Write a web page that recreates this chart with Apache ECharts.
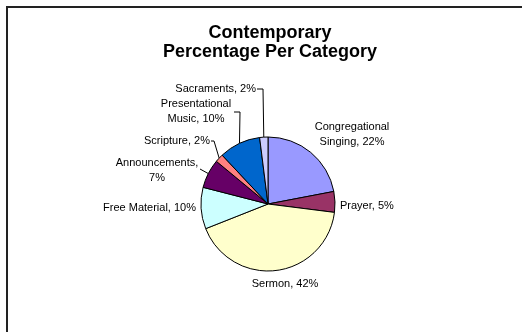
<!DOCTYPE html>
<html>
<head>
<meta charset="utf-8">
<script src="https://cdn.jsdelivr.net/npm/echarts@6/dist/echarts.min.js"></script>
<style>
  html, body { margin: 0; padding: 0; background: #fff; }
  #chart { width: 522px; height: 332px; }
</style>
</head>
<body>
<div id="chart"></div>
<script>
// Share of service time per category (percent), clockwise from 12 o'clock
const categories = [
  'Congregational Singing', 'Prayer', 'Sermon', 'Free Material',
  'Announcements', 'Scripture', 'Presentational Music', 'Sacraments'
];
const labelTexts = [
  'Congregational\nSinging, 22%', 'Prayer, 5%', 'Sermon, 42%', 'Free Material, 10%',
  'Announcements,\n7%', 'Scripture, 2%', 'Presentational\nMusic, 10%', 'Sacraments, 2%'
];
const values = [22, 5, 42, 10, 7, 2, 10, 2];
const sliceColors = [
  '#9999FF', '#993366', '#FFFFCC', '#CCFFFF',
  '#660066', '#FF8080', '#0066CC', '#CCCCFF'
];

// Label placement: text anchor (x, y, align) and, for leader-lined labels,
// the elbow of the leader and where it meets the text.
const labelPlacement = [
  { x: 352, y: 134, align: 'center' },
  { x: 340, y: 206, align: 'left' },
  { x: 285, y: 284, align: 'center' },
  { x: 196, y: 208, align: 'right' },
  { x: 157, y: 170, align: 'center', elbow: [200, 169], end: [200, 169] },
  { x: 210, y: 141, align: 'right', elbow: [214, 141], end: [211, 141] },
  { x: 196, y: 111, align: 'center', elbow: [240, 112], end: [234, 112] },
  { x: 256, y: 89, align: 'right', elbow: [263, 89], end: [257, 89] }
];

const chart = echarts.init(document.getElementById('chart'), null, { renderer: 'canvas' });

chart.setOption({
  animation: false,
  backgroundColor: '#ffffff',
  title: {
    text: 'Contemporary\nPercentage Per Category',
    left: 265,
    top: 18,
    textAlign: 'center',
    textStyle: {
      fontFamily: 'Liberation Sans, Arial, sans-serif',
      fontSize: 18,
      fontWeight: 'bold',
      lineHeight: 19.5,
      color: '#000'
    }
  },
  graphic: [{
    type: 'rect',
    shape: { x: 7, y: 7, width: 600, height: 400 },
    style: { fill: 'none', stroke: '#222', lineWidth: 2 },
    silent: true
  }],
  series: [{
    type: 'pie',
    center: [268, 204],
    radius: 67,
    startAngle: 90,
    clockwise: true,
    avoidLabelOverlap: false,
    itemStyle: { borderColor: '#000', borderWidth: 1 },
    label: {
      show: true,
      position: 'outside',
      formatter: p => labelTexts[p.dataIndex],
      fontFamily: 'Liberation Sans, Arial, sans-serif',
      fontSize: 11,
      lineHeight: 15,
      color: '#000'
    },
    labelLine: {
      show: true,
      lineStyle: { color: '#000', width: 1 }
    },
    emphasis: { disabled: true },
    labelLayout: function (params) {
      const p = labelPlacement[params.dataIndex];
      const out = {
        x: p.x,
        y: p.y,
        align: p.align,
        verticalAlign: 'middle'
      };
      if (p.elbow && params.labelLinePoints) {
        out.labelLinePoints = [params.labelLinePoints[0], p.elbow, p.end];
      }
      return out;
    },
    data: categories.map((name, i) => ({
      name: name,
      value: values[i],
      itemStyle: { color: sliceColors[i] },
      labelLine: { show: !!labelPlacement[i].elbow }
    }))
  }]
});
</script>
</body>
</html>
